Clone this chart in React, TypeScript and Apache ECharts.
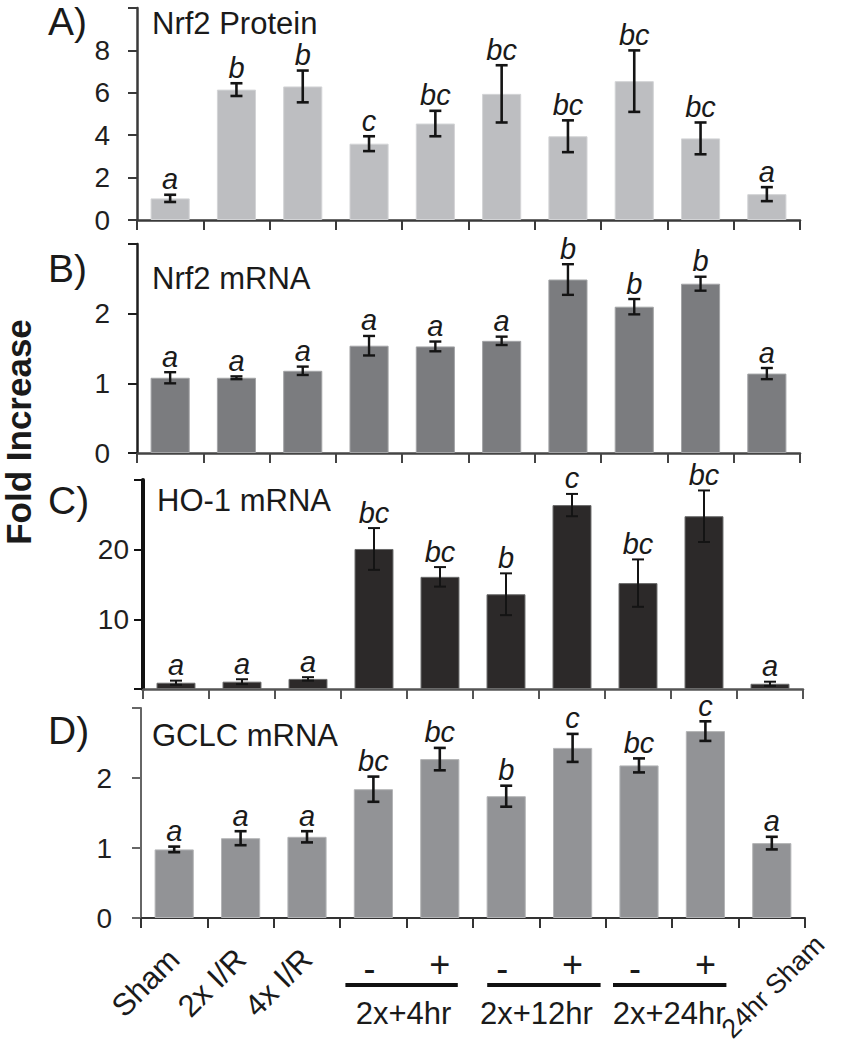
import React, { useEffect, useRef } from 'react';
import * as echarts from 'echarts';

// ---------- data ----------
const categories = ['Sham', '2x I/R', '4x I/R', '2x+4hr -', '2x+4hr +', '2x+12hr -', '2x+12hr +', '2x+24hr -', '2x+24hr +', '24hr Sham'];

const proteinMean = [1.02, 6.15, 6.3, 3.6, 4.55, 5.95, 3.95, 6.55, 3.85, 1.22];
const proteinErr = [0.17, 0.3, 0.75, 0.35, 0.6, 1.35, 0.75, 1.45, 0.75, 0.33];
const proteinLetters = ['a', 'b', 'b', 'c', 'bc', 'bc', 'bc', 'bc', 'bc', 'a'];
const proteinTicks = [0, 2, 4, 6, 8];

const nrf2Mean = [1.08, 1.08, 1.18, 1.54, 1.53, 1.61, 2.49, 2.1, 2.43, 1.14];
const nrf2Err = [0.08, 0.02, 0.06, 0.14, 0.07, 0.06, 0.22, 0.11, 0.1, 0.08];
const nrf2Letters = ['a', 'a', 'a', 'a', 'a', 'a', 'b', 'b', 'b', 'a'];
const nrf2Ticks = [0, 1, 2];

const ho1Mean = [0.9, 1.05, 1.45, 20.1, 16.1, 13.6, 26.4, 15.2, 24.8, 0.75];
const ho1Err = [0.3, 0.35, 0.25, 3.0, 1.4, 3.0, 1.6, 3.4, 3.7, 0.3];
const ho1Letters = ['a', 'a', 'a', 'bc', 'bc', 'b', 'c', 'bc', 'bc', 'a'];
const ho1Ticks = [10, 20];

const gclcMean = [0.98, 1.14, 1.16, 1.84, 2.27, 1.74, 2.43, 2.18, 2.67, 1.07];
const gclcErr = [0.04, 0.1, 0.08, 0.18, 0.16, 0.15, 0.2, 0.1, 0.14, 0.09];
const gclcLetters = ['a', 'a', 'a', 'bc', 'bc', 'b', 'c', 'bc', 'c', 'a'];
const gclcTicks = [0, 1, 2];

const groupLabels = ['2x+4hr', '2x+12hr', '2x+24hr'];
const signLabels = ['-', '+'];
const yAxisTitle = 'Fold Increase';

const FONT = "'Liberation Sans', Arial, Helvetica, sans-serif";

type Panel = {
  mean: number[]; err: number[]; letters: string[]; ticks: number[];
  max: number; interval: number; color: string; border: string;
  grid: { left: number; top: number; width: number; height: number };
  yColor: string; yWidth: number; xColor: string; xWidth: number; labelMargin: number;
  tag: string; tagY: number; title: string; titleX: number; titleY: number; errWidth: number;
};

const panels: Panel[] = [
  {
    mean: proteinMean, err: proteinErr, letters: proteinLetters, ticks: proteinTicks,
    max: 10, interval: 2, color: '#bdbec1', border: '#d3d4d6',
    grid: { left: 137, top: 8, width: 663, height: 212 },
    yColor: '#3a3a3a', yWidth: 2.5, xColor: '#3a3a3a', xWidth: 2.5, labelMargin: 27,
    tag: 'A)', tagY: 21, title: 'Nrf2 Protein', titleX: 152, titleY: 23, errWidth: 2.6,
  },
  {
    mean: nrf2Mean, err: nrf2Err, letters: nrf2Letters, ticks: nrf2Ticks,
    max: 3, interval: 1, color: '#7b7c7f', border: '#a3a4a6',
    grid: { left: 137, top: 244, width: 663, height: 209 },
    yColor: '#1e1e1e', yWidth: 2.5, xColor: '#444', xWidth: 2.5, labelMargin: 27,
    tag: 'B)', tagY: 268, title: 'Nrf2 mRNA', titleX: 152, titleY: 278, errWidth: 2.4,
  },
  {
    mean: ho1Mean, err: ho1Err, letters: ho1Letters, ticks: ho1Ticks,
    max: 30, interval: 10, color: '#2c2929', border: '#6a6a6a',
    grid: { left: 143, top: 480, width: 660, height: 209 },
    yColor: '#111', yWidth: 4, xColor: '#555', xWidth: 2.5, labelMargin: 14,
    tag: 'C)', tagY: 500, title: 'HO-1 mRNA', titleX: 157, titleY: 500, errWidth: 2,
  },
  {
    mean: gclcMean, err: gclcErr, letters: gclcLetters, ticks: gclcTicks,
    max: 3, interval: 1, color: '#929396', border: '#b4b5b7',
    grid: { left: 141, top: 708, width: 664, height: 210 },
    yColor: '#666', yWidth: 2, xColor: '#333', xWidth: 2, labelMargin: 29,
    tag: 'D)', tagY: 730, title: 'GCLC mRNA', titleX: 152, titleY: 735, errWidth: 2.6,
  },
];

export default function App() {
  const ref = useRef<HTMLDivElement>(null);

  useEffect(() => {
    if (!ref.current) return;
    const chart = echarts.init(ref.current, null, { renderer: 'svg' });

    const grids: any[] = [];
    const xAxes: any[] = [];
    const yAxes: any[] = [];
    const series: any[] = [];
    const graphics: any[] = [];

    panels.forEach((p, idx) => {
      const last = idx === panels.length - 1;
      grids.push({ ...p.grid, containLabel: false, outerBoundsMode: 'none' });
      xAxes.push({
        type: 'category', gridIndex: idx, data: categories,
        axisLine: { show: true, lineStyle: { color: p.xColor, width: p.xWidth } },
        axisTick: { show: true, interval: 0, length: 10, lineStyle: { color: p.xColor, width: 2 } },
        axisLabel: {
          show: last, interval: 0, rotate: 45, margin: 36,
          fontSize: 31, fontFamily: FONT, color: '#1a1a1a',
          formatter: (v: string, i: number) => (i < 3 ? v : ''),
        },
        splitLine: { show: false },
      });
      yAxes.push({
        type: 'value', gridIndex: idx, min: 0, max: p.max, interval: p.interval,
        axisLine: { show: true, lineStyle: { color: p.yColor, width: p.yWidth } },
        axisTick: { show: true, length: 9, lineStyle: { color: p.yColor, width: 2 } },
        axisLabel: {
          fontSize: 28, fontFamily: FONT, color: '#1f1f1f', margin: p.labelMargin,
          padding: [7, 0, 0, 0],
          formatter: (v: number) => (p.ticks.includes(v) ? String(v) : ''),
        },
        splitLine: { show: false },
      });
      series.push({
        type: 'bar', xAxisIndex: idx, yAxisIndex: idx, data: p.mean,
        barWidth: '59%',
        itemStyle: { color: p.color, borderColor: p.border, borderWidth: 1 },
      });
      series.push({
        type: 'custom', xAxisIndex: idx, yAxisIndex: idx,
        data: p.mean.map((m, i) => [i, m, p.err[i]]),
        encode: { x: 0, y: 1 },
        z: 5,
        renderItem: (params: any, api: any) => {
          const i = api.value(0);
          const m = api.value(1);
          const e = api.value(2);
          const top = api.coord([i, m + e]);
          const bot = api.coord([i, m - e]);
          const cap = 6;
          const st = { stroke: '#141414', lineWidth: p.errWidth };
          return {
            type: 'group',
            children: [
              { type: 'line', shape: { x1: top[0], y1: top[1], x2: bot[0], y2: bot[1] }, style: st },
              { type: 'line', shape: { x1: top[0] - cap, y1: top[1], x2: top[0] + cap, y2: top[1] }, style: st },
              { type: 'line', shape: { x1: bot[0] - cap, y1: bot[1], x2: bot[0] + cap, y2: bot[1] }, style: st },
              {
                type: 'text',
                style: {
                  text: p.letters[params.dataIndex], x: top[0], y: top[1] - 1,
                  align: 'center', verticalAlign: 'bottom',
                  fontSize: 29, fontStyle: 'italic', fontFamily: FONT, fill: '#1a1a1a',
                },
              },
            ],
          };
        },
      });
      graphics.push({
        type: 'text', x: 48, y: p.tagY,
        style: { text: p.tag, fontSize: 39, fontFamily: FONT, fill: '#1a1a1a', align: 'left', verticalAlign: 'middle' },
      });
      graphics.push({
        type: 'text', x: p.titleX, y: p.titleY,
        style: { text: p.title, fontSize: 31, fontFamily: FONT, fill: '#1a1a1a', align: 'left', verticalAlign: 'middle' },
      });
    });

    // y axis title
    graphics.push({
      type: 'text', x: 18, y: 432, rotation: Math.PI / 2,
      style: { text: yAxisTitle, fontSize: 35, fontWeight: 'bold', fontFamily: FONT, fill: '#1a1a1a', align: 'center', verticalAlign: 'middle' },
    });

    // x-axis group annotations (bottom panel)
    const g = panels[3].grid;
    const cw = g.width / categories.length;
    const cx = (i: number) => g.left + (i + 0.5) * cw;
    const axisY = g.top + g.height;
    const lineRanges = [[-28, 18], [-19, 28], [-26, 21]];
    groupLabels.forEach((lab, k) => {
      const a = 3 + 2 * k;
      const b = a + 1;
      graphics.push({
        type: 'text', x: cx(a) - 4, y: axisY + 50,
        style: { text: signLabels[0], fontSize: 36, fontFamily: FONT, fill: '#1a1a1a', align: 'center', verticalAlign: 'middle' },
      });
      graphics.push({
        type: 'text', x: cx(b), y: axisY + 46,
        style: { text: signLabels[1], fontSize: 36, fontFamily: FONT, fill: '#1a1a1a', align: 'center', verticalAlign: 'middle' },
      });
      graphics.push({
        type: 'line',
        shape: { x1: cx(a) + lineRanges[k][0], y1: axisY + 67, x2: cx(b) + lineRanges[k][1], y2: axisY + 67 },
        style: { stroke: '#111', lineWidth: 4 },
      });
      graphics.push({
        type: 'text', x: (cx(a) + cx(b)) / 2 - 3, y: axisY + 95,
        style: { text: lab, fontSize: 31, fontFamily: FONT, fill: '#1a1a1a', align: 'center', verticalAlign: 'middle' },
      });
    });
    graphics.push({
      type: 'text', x: cx(9) + 48, y: axisY + 22, rotation: Math.PI / 4,
      style: { text: categories[9], fontSize: 27, fontFamily: FONT, fill: '#1a1a1a', align: 'right', verticalAlign: 'middle' },
    });

    chart.setOption({
      animation: false,
      backgroundColor: '#ffffff',
      grid: grids,
      xAxis: xAxes,
      yAxis: yAxes,
      series,
      graphic: graphics,
    });

    return () => chart.dispose();
  }, []);

  return (
    <div
      ref={ref}
      style={{ position: 'absolute', left: 0, top: 0, width: 841, height: 1050, background: '#fff' }}
    />
  );
}
